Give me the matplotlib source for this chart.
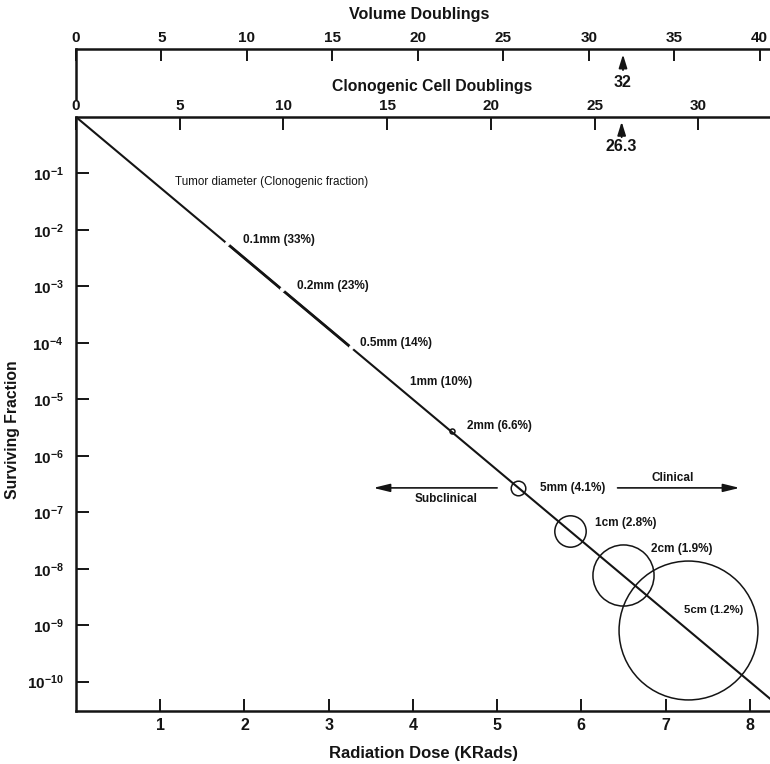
import numpy as np
import matplotlib.pyplot as plt
from matplotlib.ticker import FixedLocator, FixedFormatter, NullLocator

plt.rcParams['font.family'] = ['Liberation Sans', 'DejaVu Sans']
plt.rcParams['mathtext.fontset'] = 'custom'
plt.rcParams['mathtext.rm'] = 'Liberation Sans:bold'
plt.rcParams['mathtext.it'] = 'Liberation Sans:bold'
plt.rcParams['mathtext.bf'] = 'Liberation Sans:bold'
plt.rcParams['mathtext.default'] = 'rm'

# Axis ticks
dose_ticks = [1, 2, 3, 4, 5, 6, 7, 8]
sf_exponents = [-1, -2, -3, -4, -5, -6, -7, -8, -9, -10]
volume_ticks = [0, 5, 10, 15, 20, 25, 30, 35, 40]
clono_ticks = [0, 5, 10, 15, 20, 25, 30]

# Survival line (dose in KRads, surviving fraction)
line_dose = [0.0, 8.3]
line_sf = [1.0, 4.2e-11]

# Tumor size points along the line
marker_dose = [1.79, 2.44, 3.26, 3.80, 4.46, 5.25, 5.87, 6.49, 7.27]
marker_sf = [5.8e-3, 8.9e-4, 8.4e-5, 1.8e-5, 2.7e-6, 2.7e-7, 4.6e-8, 7.7e-9, 8.2e-10]
marker_labels = ["0.1mm (33%)", "0.2mm (23%)", "0.5mm (14%)", "1mm (10%)",
                 "2mm (6.6%)", "5mm (4.1%)", "1cm (2.8%)", "2cm (1.9%)", "5cm (1.2%)"]

volume_mark = 32
clono_mark = 26.3

INK = '#141414'
PX = 0.72  # points per pixel at dpi 100
BOLD = 'bold'

fig = plt.figure(figsize=(7.7, 7.64), dpi=100)
ax = fig.add_axes([76/770, 53/764, 694/770, 594/764])
ax.set_yscale('log')
ax.set_xlim(0, 8.24)
ax.set_ylim(10**-10.52, 1)

for side in ['top', 'right']:
    ax.spines[side].set_visible(False)
for side in ['left', 'bottom']:
    ax.spines[side].set_linewidth(1.8)
    ax.spines[side].set_color(INK)

ax.xaxis.set_major_locator(FixedLocator(dose_ticks))
ax.xaxis.set_major_formatter(FixedFormatter([str(t) for t in dose_ticks]))
ax.yaxis.set_major_locator(FixedLocator([10.0**e for e in sf_exponents]))
ax.yaxis.set_major_formatter(FixedFormatter(['$10^{%d}$' % e for e in sf_exponents]))
ax.yaxis.set_minor_locator(NullLocator())
ax.tick_params(axis='both', direction='in', length=9, width=1.4, color=INK,
               labelcolor=INK)
ax.tick_params(axis='x', pad=5, labelsize=11.5)
ax.tick_params(axis='y', pad=9, labelsize=11)
for lab in ax.get_xticklabels():
    lab.set_fontweight(BOLD)

ax.text(0.501, -0.071, 'Radiation Dose (KRads)', transform=ax.transAxes,
        ha='center', va='center', fontsize=12, fontweight=BOLD, color=INK)
ax.text(-0.091, 0.473, 'Surviving Fraction', transform=ax.transAxes,
        ha='center', va='center', rotation=90, fontsize=11.3, fontweight=BOLD, color=INK)

# Clonogenic cell doublings on top of the main axes
ax2 = ax.twiny()
ax2.set_xlim(0, 33.45)
for side in ['left', 'right', 'bottom']:
    ax2.spines[side].set_visible(False)
ax2.spines['top'].set_linewidth(1.8)
ax2.spines['top'].set_color(INK)
ax2.xaxis.set_major_locator(FixedLocator(clono_ticks))
ax2.xaxis.set_major_formatter(FixedFormatter([str(t) for t in clono_ticks]))
ax2.tick_params(axis='x', direction='in', length=9, width=1.4, color=INK,
                labelcolor=INK, pad=3, labelsize=11)
for lab in ax2.get_xticklabels():
    lab.set_fontweight(BOLD)
ax.text(0.513, 1.051, 'Clonogenic Cell Doublings', transform=ax.transAxes,
        ha='center', va='center', fontsize=11.3, fontweight=BOLD, color=INK)

head = '-|>,head_length=0.8,head_width=0.25'
ax2.annotate('', xy=(clono_mark, 0.992), xycoords=('data', 'axes fraction'),
             xytext=(clono_mark, 0.966), textcoords=('data', 'axes fraction'),
             arrowprops=dict(arrowstyle=head, lw=1.3, color=INK, mutation_scale=10,
                             shrinkA=0, shrinkB=0))
ax2.text(clono_mark, 0.951, '26.3', transform=ax2.get_xaxis_transform(),
         ha='center', va='center', fontsize=11.5, fontweight=BOLD, color=INK)

# Volume doublings axis above
axv = fig.add_axes([76/770, 647/764, 694/770, 68/764])
axv.set_xlim(0, 40.6)
axv.set_ylim(0, 1)
axv.patch.set_alpha(0)
for side in ['right', 'bottom']:
    axv.spines[side].set_visible(False)
for side in ['top', 'left']:
    axv.spines[side].set_linewidth(1.8)
    axv.spines[side].set_color(INK)
# leave room for the clonogenic "0" label below the vertical rule
axv.spines['left'].set_bounds(0.27, 1)
axv.yaxis.set_major_locator(NullLocator())
axv.xaxis.set_ticks_position('top')
axv.xaxis.set_major_locator(FixedLocator(volume_ticks))
axv.xaxis.set_major_formatter(FixedFormatter([str(t) for t in volume_ticks]))
axv.tick_params(axis='x', direction='in', length=8.5, width=1.4, color=INK,
                labelcolor=INK, pad=3, labelsize=11)
for lab in axv.get_xticklabels():
    lab.set_fontweight(BOLD)
axv.text(0.494, 1.5, 'Volume Doublings', transform=axv.transAxes,
         ha='center', va='center', fontsize=11.6, fontweight=BOLD, color=INK)
axv.annotate('', xy=(volume_mark, 0.92), xytext=(volume_mark, 0.69),
             arrowprops=dict(arrowstyle=head, lw=1.3, color=INK, mutation_scale=10,
                             shrinkA=0, shrinkB=0))
axv.text(volume_mark, 0.51, str(volume_mark), ha='center', va='center',
         fontsize=11.5, fontweight=BOLD, color=INK)

# Survival line with tumor size marks
ax.plot(line_dose, line_sf, color=INK, lw=1.5, solid_capstyle='butt', zorder=3)
ax.plot(marker_dose[0:3], marker_sf[0:3], color=INK, lw=2.0, solid_capstyle='butt', zorder=3)
ax.plot(marker_dose[:3], marker_sf[:3], 'o', ms=2.6, mfc='white', mec='white', zorder=4)

circle_ms = [None, None, None, None, 3.6, 10.5, 22.6, 44, 100]
for d, s, m in zip(marker_dose, marker_sf, circle_ms):
    if m is not None:
        ax.plot([d], [s], 'o', ms=m, mfc='none', mec=INK, mew=1.1, zorder=5)

label_off = [(16, 3), (15, 3), (9, 4), (14, 3), (15, 5), (22, 0), (25, 8), (28, 26), (-4, 20)]
label_size = [8.5, 8.5, 8.5, 8.5, 8.5, 8.5, 8.5, 8.5, 8.2]
for d, s, lab, (dx, dy), fs in zip(marker_dose, marker_sf, marker_labels, label_off, label_size):
    ax.annotate(lab, xy=(d, s), xytext=(dx * PX, dy * PX), textcoords='offset points',
                ha='left', va='center', fontsize=fs, fontweight=BOLD, color=INK)

ax.text(1.18, 0.072, 'Tumor diameter (Clonogenic fraction)', ha='left', va='center',
        fontsize=8.4, color=INK)

# Subclinical / clinical arrows at the 5mm level
y5 = marker_sf[5]
arrow_kw = dict(arrowstyle='-|>,head_length=0.9,head_width=0.22', lw=1.2, color=INK,
                mutation_scale=11, shrinkA=0, shrinkB=0)
ax.annotate('', xy=(3.53, y5), xytext=(5.00, y5), arrowprops=arrow_kw)
ax.annotate('', xy=(7.88, y5), xytext=(6.43, y5), arrowprops=arrow_kw)
ax.annotate('Subclinical', xy=(4.39, y5), xytext=(0, -11 * PX), textcoords='offset points',
            ha='center', va='center', fontsize=8.5, fontweight=BOLD, color=INK)
ax.annotate('Clinical', xy=(7.08, y5), xytext=(0, 10 * PX), textcoords='offset points',
            ha='center', va='center', fontsize=8.5, fontweight=BOLD, color=INK)

fig.savefig('out.png', dpi=100)
